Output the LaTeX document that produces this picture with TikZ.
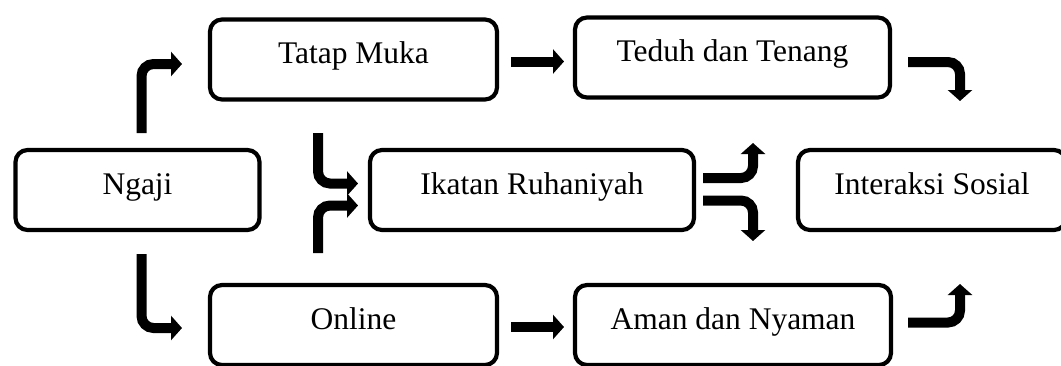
\documentclass[tikz,border=0pt]{standalone}
\usepackage{fontspec}
\setmainfont{Liberation Serif}
\usetikzlibrary{arrows.meta}
\tikzset{
  box/.style={draw=black, line width=4.2pt, rounded corners=12pt, inner sep=0pt,
    text height=44pt, text depth=36pt, align=center,
    font=\fontsize{31.5}{36}\selectfont},
  fat/.style={draw=black, line width=10pt, rounded corners=12pt,
    -{Triangle[length=11pt,width=24pt]}},
}
\begin{document}
\begin{tikzpicture}[x=1pt,y=-1pt]
\useasboundingbox (0,0) rectangle (1061,365);
\clip (0,0) rectangle (1061,365);
% boxes
\node[box, minimum width=244pt] (ngaji) at (137.5,190) {Ngaji};
\node[box, minimum width=287pt] (tatap) at (353.5,59.5) {Tatap Muka};
\node[box, minimum width=315pt] (teduh) at (732.5,57.5) {Teduh dan Tenang};
\node[box, minimum width=324pt] (ikatan) at (532,190) {Ikatan Ruhaniyah};
\node[box, minimum width=268pt] (inter) at (932,190) {Interaksi Sosial};
\node[box, minimum width=287pt] (online) at (353.5,325) {Online};
\node[box, minimum width=316pt] (aman) at (733,325) {Aman dan Nyaman};
% arrow end points
\coordinate (a1s) at (141.5,133);  \coordinate (a1e) at (182,64);
\coordinate (a2s) at (141.5,254);  \coordinate (a2e) at (182,328);
\coordinate (a3s) at (318,133);    \coordinate (a3e) at (358,183.5);
\coordinate (a4s) at (318,253);    \coordinate (a4e) at (358,205.5);
\coordinate (a5s) at (511,61.5);   \coordinate (a5e) at (564,61.5);
\coordinate (a6s) at (511,327);    \coordinate (a6e) at (564,327);
\coordinate (a7s) at (703,178);    \coordinate (a7e) at (753,143);
\coordinate (a8s) at (703,200.5);  \coordinate (a8e) at (753,241);
\coordinate (a9s) at (908,62);     \coordinate (a9e) at (960,101);
\coordinate (a10s) at (908,322.5); \coordinate (a10e) at (960,284);
% arrows
\draw[fat] (a1s) |- (a1e);
\draw[fat] (a2s) |- (a2e);
\draw[fat] (a3s) |- (a3e);
\draw[fat] (a4s) |- (a4e);
\draw[fat] (a5s) -- (a5e);
\draw[fat] (a6s) -- (a6e);
\draw[fat] (a7s) -| (a7e);
\draw[fat] (a8s) -| (a8e);
\draw[fat] (a9s) -| (a9e);
\draw[fat] (a10s) -| (a10e);
\end{tikzpicture}
\end{document}
